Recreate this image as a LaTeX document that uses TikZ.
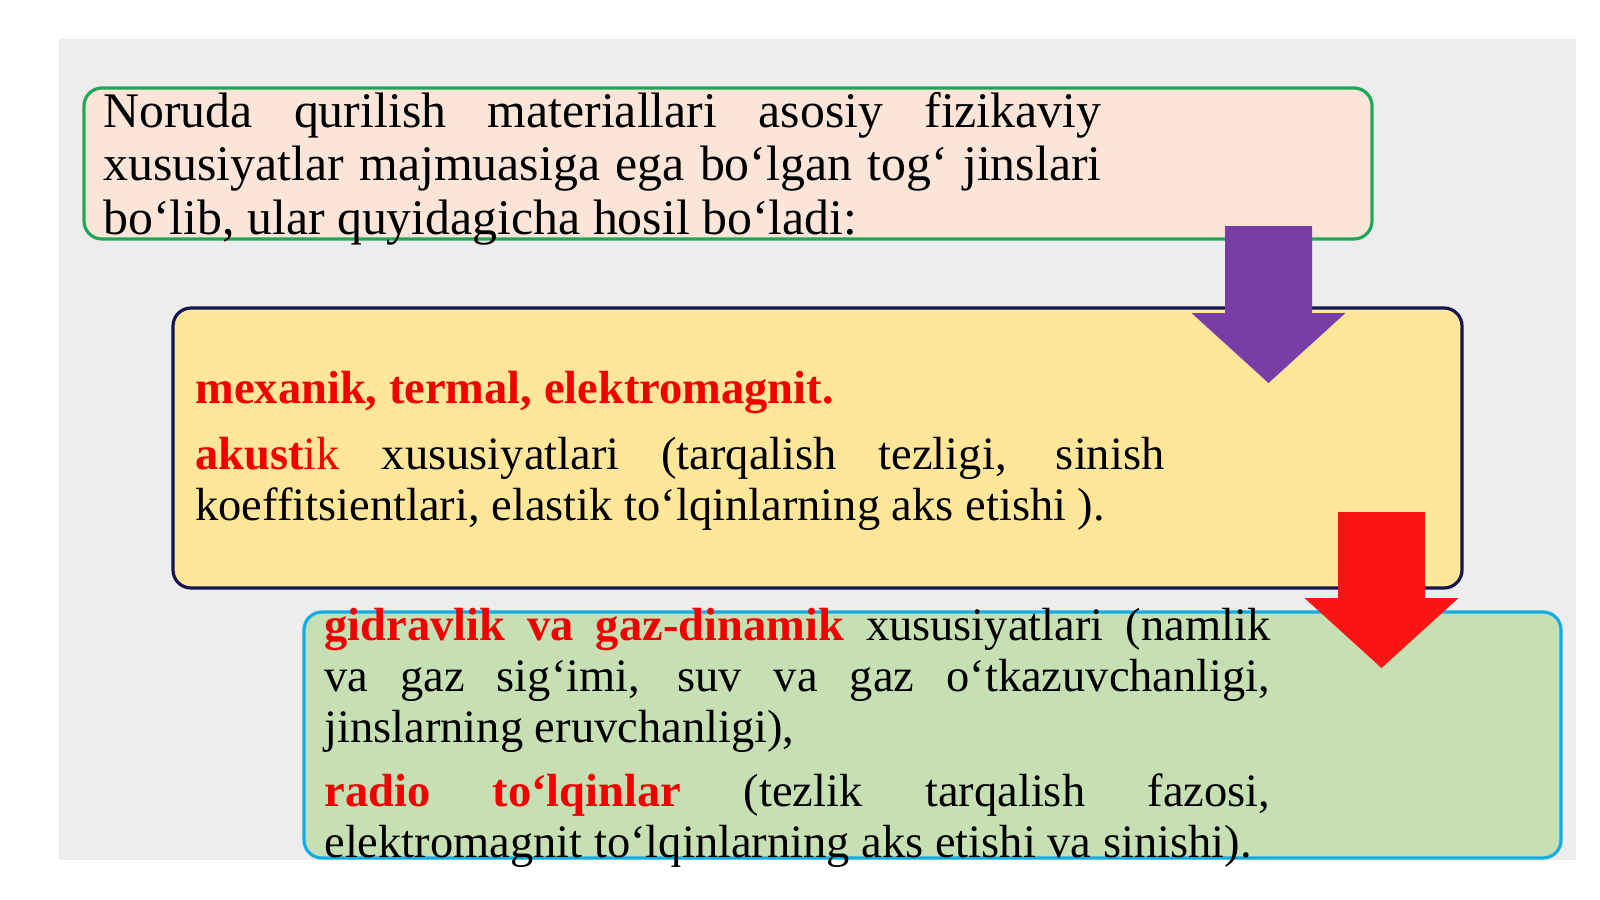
\documentclass[tikz,border=0pt]{standalone}
\usepackage{fontspec}
\setmainfont{Liberation Serif}
\usepackage{xcolor}
\usepackage{tikz}

\definecolor{slidegray}{HTML}{EDEDED}
\definecolor{peach}{HTML}{FBE4D8}
\definecolor{leafline}{HTML}{1FA85A}
\definecolor{butter}{HTML}{FFE699}
\definecolor{navyline}{HTML}{141450}
\definecolor{mint}{HTML}{C6E0B4}
\definecolor{skyline}{HTML}{14ACE4}
\definecolor{plum}{HTML}{7A3CA6}
\definecolor{termred}{HTML}{F00000}
\definecolor{arrowred}{HTML}{FA1414}

\newcommand{\term}[1]{\textbf{\color{termred}#1}}

\begin{document}
\begin{tikzpicture}[x=0.5pt,y=-0.5pt,
	panel/.style={line width=1.6pt, rounded corners=9pt},
	bigtxt/.style={anchor=base west, inner sep=0pt, align=justify, text width=499pt,
		font=\fontsize{24.9}{26.75}\selectfont},
	txt/.style={anchor=base west, inner sep=0pt, align=justify,
		font=\fontsize{23.25}{25.5}\selectfont}]
				\useasboundingbox (0,0) rectangle (1600,899);
				\fill[slidegray] (59,39) rectangle (1576,860);
				
				% the three boxes
				\foreach \n/\xa/\ya/\xb/\yb/\f/\d in
				{b1/84/88/1372/239/peach/leafline, b2/173/308/1462/588/butter/navyline,
				 b3/304/612/1561/858/mint/skyline}{
					\draw[panel, fill=\f, draw=\d] (\xa,\ya) rectangle (\xb,\yb);
					\coordinate (\n) at (\xa,\ya);
				}
				
				% block arrows (centre x, shaft top, head base, tip)
				\foreach \n/\cx/\ya/\yb/\yc/\c in
				{a1/1268.5/226/313/383/plum, a2/1381.5/512/598/668/arrowred}{
					\coordinate (\n) at (\cx,\yc);
					\fill[\c] (\cx-43.5,\ya) -- (\cx+43.5,\ya) -- (\cx+43.5,\yb)
						-- (\cx+77,\yb) -- (\n) -- (\cx-77,\yb) -- (\cx-43.5,\yb) -- cycle;
				}
				
				% top box
				\node[bigtxt] (t1) at (103,127) {Noruda qurilish materiallari asosiy fizikaviy\linebreak
					xususiyatlar majmuasiga ega bo‘lgan tog‘ jinslari\linebreak
					bo‘lib, ular quyidagicha hosil bo‘ladi:};
				
				% middle box
				\node[txt, text width=484.5pt] (t2a) at (195,403) {\term{mexanik, termal, elektromagnit.}};
				\node[txt, text width=484.5pt] (t2b) at (195,469) {\term{akust}{\color{termred}ik} xususiyatlari (tarqalish tezligi, sinish\linebreak
					koeffitsientlari, elastik to‘lqinlarning aks etishi ).};
				
				% bottom box
				\node[txt, text width=473pt] (t3a) at (324,640) {\term{gidravlik va gaz-dinamik} xususiyatlari (namlik\linebreak
					va gaz sig‘imi, suv va gaz o‘tkazuvchanligi,\linebreak
					jinslarning eruvchanligi),};
				\node[txt, text width=473pt] (t3b) at (324,806) {\term{radio to‘lqinlar} (tezlik tarqalish fazosi,\linebreak
					elektromagnit to‘lqinlarning aks etishi va sinishi).};
			\end{tikzpicture}
\end{document}
